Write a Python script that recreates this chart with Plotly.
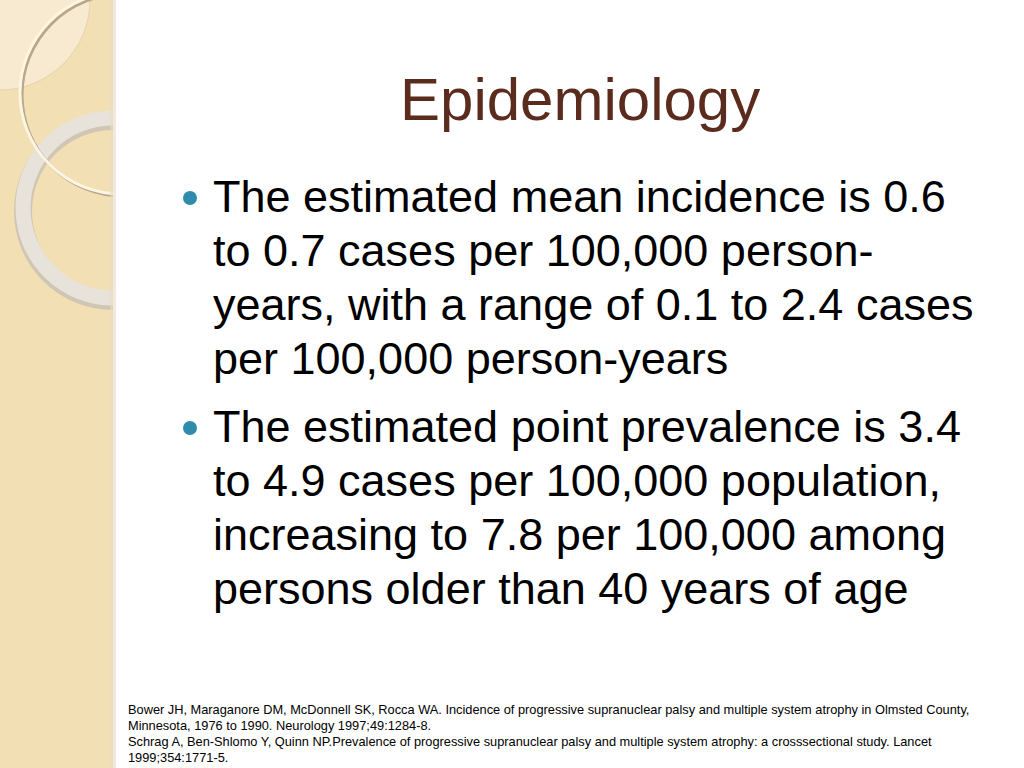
import plotly.graph_objects as go

title = "Epidemiology"
bullet1 = ["The estimated mean incidence is 0.6", "to 0.7 cases per 100,000 person-",
           "years, with a range of 0.1 to 2.4 cases", "per 100,000 person-years"]
bullet2 = ["The estimated point prevalence is 3.4", "to 4.9 cases per 100,000 population,",
           "increasing to 7.8 per 100,000 among", "persons older than 40 years of age"]
refs = ["Bower JH, Maraganore DM, McDonnell SK, Rocca WA. Incidence of progressive supranuclear palsy and multiple system atrophy in Olmsted County,",
        "Minnesota, 1976 to 1990. Neurology 1997;49:1284-8.",
        "Schrag A, Ben-Shlomo Y, Quinn NP.Prevalence of progressive supranuclear palsy and multiple system atrophy: a crosssectional study. Lancet",
        "1999;354:1771-5."]
line_y = [[196, 250, 304, 358], [426, 480, 534, 588]]

fig = go.Figure()
shapes = [
    dict(type="rect", x0=0, x1=113, y0=0, y1=768, fillcolor="#f3dfb4", line_width=0),
    dict(type="circle", x0=-90, x1=90, y0=-90, y1=90, fillcolor="#f7ead0", line=dict(color="#e6d3a8", width=1)),
    dict(type="circle", x0=23, x1=203, y0=121, y1=301, line=dict(color="#cfc6b4", width=18)),
    dict(type="circle", x0=23, x1=203, y0=118, y1=298, line=dict(color="#e8e3da", width=15)),
    dict(type="circle", x0=22, x1=224, y0=-6, y1=196, line=dict(color="#b8a78a", width=3)),
    dict(type="circle", x0=20, x1=222, y0=-8, y1=194, line=dict(color="#fbf5e2", width=3)),
    dict(type="rect", x0=113, x1=1030, y0=-10, y1=780, fillcolor="white", line_width=0),
    dict(type="rect", x0=110, x1=116, y0=0, y1=768, fillcolor="#e8dcc4", line_width=0, opacity=0.6),
    dict(type="circle", x0=183, x1=197, y0=191, y1=205, fillcolor="#2e8bab", line_width=0),
    dict(type="circle", x0=183, x1=197, y0=421, y1=435, fillcolor="#2e8bab", line_width=0),
]
fig.update_layout(shapes=shapes)

ann = [dict(x=580, y=99, text=title, font=dict(size=60, color="#5b2c1d", family="Liberation Sans"),
            xanchor="center", yanchor="middle", showarrow=False)]
for block, ys in zip((bullet1, bullet2), line_y):
    for line, yy in zip(block, ys):
        ann.append(dict(x=211, y=yy, text=line, font=dict(size=45, color="black", family="Liberation Sans"),
                        xanchor="left", yanchor="middle", showarrow=False))
ry = 709
for r in refs:
    ann.append(dict(x=126, y=ry, text=r, font=dict(size=12.8, color="black", family="Liberation Sans"),
                    xanchor="left", yanchor="middle", showarrow=False))
    ry += 16
fig.update_layout(annotations=ann, width=1024, height=768, margin=dict(l=0, r=0, t=0, b=0),
                  paper_bgcolor="white", plot_bgcolor="white",
                  xaxis=dict(range=[0, 1024], visible=False, fixedrange=True),
                  yaxis=dict(range=[768, 0], visible=False, fixedrange=True), showlegend=False)
fig.write_html("out.html", config={"displayModeBar": False},
               post_script="document.body.style.margin='0';document.body.style.overflow='hidden';")
